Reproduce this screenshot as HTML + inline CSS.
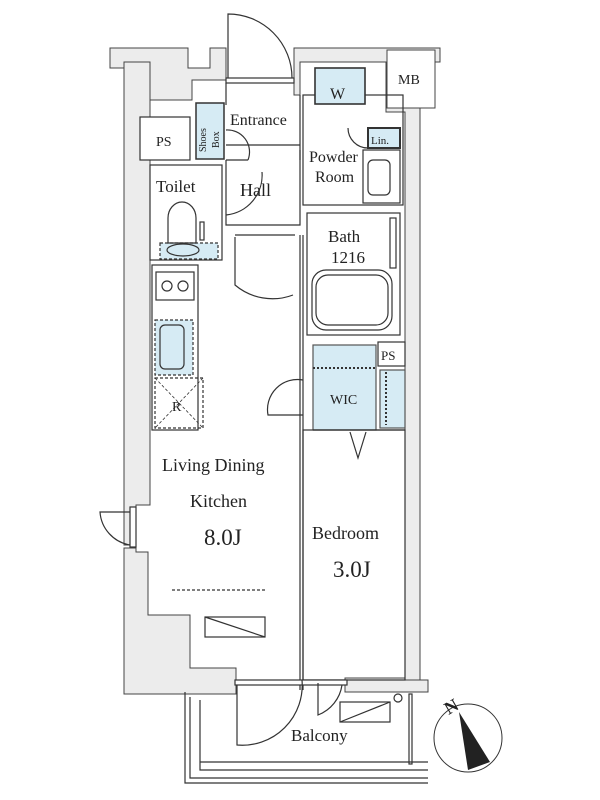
<!DOCTYPE html>
<html><head><meta charset="utf-8"><style>
html,body{margin:0;padding:0;background:#fff;width:600px;height:800px;overflow:hidden}
svg{display:block}
text{font-family:"Liberation Serif",serif;fill:#222}
</style></head><body>
<svg width="600" height="800" viewBox="0 0 600 800" xmlns="http://www.w3.org/2000/svg">
<g fill="#ececec" stroke="#444" stroke-width="1">
<path d="M110 48 H188 V68 H210 V48 H226 V80 H192 V100 H150 V68 H110 Z"/>
<path d="M124 62 H150 V505 H136 V545 H124 Z"/>
<path d="M124 548 H136 V552 H148 V615 H190 V668 H236 V694 H124 Z"/>
<path d="M294 48 H440 V62 H420 V690 H405 V112 H386 V62 H300 V95 H294 Z"/>
<rect x="387" y="50" width="48" height="58" fill="#fff"/>
<path d="M345 678 H405 V680 H428 V692 H345 Z"/>
</g>
<g fill="none" stroke="#333" stroke-width="1.2">
<path d="M136 512 H100 A36 36 0 0 0 130 545"/>
<rect x="130" y="507" width="6" height="40" fill="#fff"/>
<rect x="226" y="78" width="68" height="5" fill="#fff"/>
<path d="M228 78 V14 A64 64 0 0 1 292 78"/>
<path d="M226 83 V105 M226 160 V225 H300 V150"/>
<path d="M226 145 H300"/>
<path d="M300 95 V160"/>
<path d="M226 130 A22 22 0 0 1 248 160 M226 160 H248"/>
<path d="M226 215 A40 40 0 0 0 262 172"/>
<path d="M235 235 H295 M235 237 V285 A58 58 0 0 0 293 295"/>
<rect x="196" y="103" width="28" height="56" fill="#d6ebf4" stroke-width="1.5"/>
<rect x="140" y="117" width="50" height="43" fill="#fff"/>
<rect x="150" y="165" width="72" height="95"/>
<rect x="160" y="243" width="58" height="16" fill="#d6ebf4" stroke-dasharray="3 2"/>
<path d="M168 243 V218 A14 16 0 0 1 196 218 V243 Z"/>
<rect x="200" y="222" width="4" height="18"/>
<ellipse cx="183" cy="250" rx="16" ry="6"/>
<rect x="152" y="265" width="46" height="165"/>
<rect x="156" y="272" width="38" height="28"/>
<circle cx="167" cy="286" r="5"/><circle cx="183" cy="286" r="5"/>
<rect x="155" y="320" width="38" height="55" fill="#d6ebf4" stroke-dasharray="3 2"/>
<rect x="160" y="325" width="24" height="44" rx="5"/>
<rect x="155" y="378" width="48" height="50" stroke-dasharray="3 2"/>
<path d="M155 378 L203 428 M203 378 L155 428" stroke-dasharray="3 2" stroke-width="0.8"/>
<path d="M172 590 H265" stroke-dasharray="3 2"/>
<rect x="205" y="617" width="60" height="20"/>
<path d="M205 617 L265 637"/>
<path d="M300 235 V690 M303 235 V690"/>
<rect x="303" y="95" width="100" height="110"/>
<rect x="315" y="68" width="50" height="36" fill="#d6ebf4" stroke-width="1.6"/>
<rect x="368" y="128" width="32" height="20" fill="#d6ebf4" stroke-width="2"/>
<rect x="363" y="150" width="37" height="53"/>
<rect x="368" y="160" width="22" height="35" rx="5"/>
<path d="M348 128 A20 20 0 0 0 368 148"/>
<rect x="307" y="213" width="93" height="122"/>
<rect x="312" y="270" width="80" height="60" rx="14"/>
<rect x="316" y="275" width="72" height="50" rx="12"/>
<rect x="390" y="218" width="6" height="50"/>
<rect x="378" y="342" width="27" height="24" fill="#fff"/>
<rect x="313" y="345" width="63" height="85" fill="#d6ebf4" stroke="#555"/>
<rect x="380" y="370" width="25" height="58" fill="#d6ebf4" stroke="#555"/>
<path d="M313 368 H376" stroke-dasharray="2 2" stroke-width="2"/>
<path d="M386 372 V425" stroke-dasharray="2 2" stroke-width="2"/>
<path d="M313 430 H405 M303 380 A30 30 0 0 0 268 415 H303"/>
<path d="M350 432 L358 458 L366 432"/>
<rect x="303" y="430" width="102" height="250"/>
<rect x="235" y="680" width="112" height="5" fill="#fff"/>
<path d="M237 685 V745 A60 60 0 0 0 302 680"/>
<path d="M318 683 V715 A38 38 0 0 0 342 685"/>
<path d="M185 692 V783 H428 M190 697 V778 H428 M200 700 V770 H428 M200 762 H428"/>
<rect x="340" y="702" width="50" height="20"/>
<path d="M340 722 L390 702"/>
<circle cx="398" cy="698" r="4"/>
<rect x="409" y="694" width="3" height="70"/>
</g>
<circle cx="468" cy="738" r="34" fill="#fff" stroke="#333"/>
<path d="M459 712 L490 762 L468 770 Z" fill="#222"/>
<text x="444" y="712" font-size="18" font-weight="bold" font-family="Liberation Sans" transform="rotate(-30 452 705)">N</text>
<g font-size="16">
<text x="230" y="125">Entrance</text>
<text x="156" y="192" font-size="17">Toilet</text>
<text x="240" y="196" font-size="18">Hall</text>
<text x="309" y="162">Powder</text>
<text x="315" y="182">Room</text>
<text x="328" y="242" font-size="17">Bath</text>
<text x="331" y="263" font-size="17">1216</text>
<text x="398" y="84" font-size="14">MB</text>
<text x="156" y="146" font-size="14">PS</text>
<text x="330" y="99" font-size="16">W</text>
<text x="371" y="144" font-size="11">Lin.</text>
<text x="381" y="360" font-size="13">PS</text>
<text x="330" y="404" font-size="14">WIC</text>
<text x="172" y="411" font-size="14" fill="#666">R</text>
<text x="162" y="471" font-size="18">Living Dining</text>
<text x="190" y="507" font-size="18">Kitchen</text>
<text x="204" y="545" font-size="23">8.0J</text>
<text x="312" y="539" font-size="18">Bedroom</text>
<text x="333" y="577" font-size="23">3.0J</text>
<text x="291" y="741" font-size="17">Balcony</text>
<text x="0" y="0" font-size="10" transform="translate(206 152) rotate(-90)">Shoes</text>
<text x="0" y="0" font-size="10" transform="translate(219 148) rotate(-90)">Box</text>
</g>
</svg>
</body></html>
